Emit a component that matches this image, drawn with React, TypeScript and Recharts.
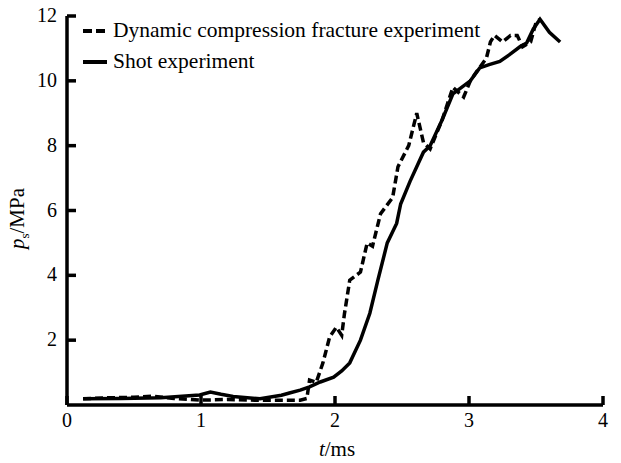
import { LineChart, Line, XAxis, YAxis, Label } from 'recharts';

// dynamic compression fracture experiment (dashed)
const dynT = [0.12, 0.3, 0.5, 0.64, 0.8, 1.0, 1.2, 1.4, 1.6, 1.74, 1.79, 1.81, 1.86, 1.91, 1.96, 2.01, 2.05, 2.07, 2.11, 2.19, 2.24, 2.28, 2.34, 2.43, 2.47, 2.55, 2.61, 2.66, 2.71, 2.8, 2.88, 2.96, 3.01, 3.06, 3.13, 3.16, 3.19, 3.25, 3.31, 3.36, 3.4, 3.46, 3.5, 3.53];
const dynP = [0.19, 0.22, 0.24, 0.27, 0.2, 0.15, 0.17, 0.15, 0.15, 0.15, 0.2, 0.77, 0.7, 1.3, 2.1, 2.4, 2.15, 2.8, 3.85, 4.1, 5.0, 4.9, 5.9, 6.4, 7.35, 8.0, 9.0, 8.1, 7.9, 8.8, 9.8, 9.5, 10.0, 10.3, 10.7, 11.2, 11.4, 11.2, 11.4, 11.4, 11.05, 11.2, 11.8, 11.9];

// shot experiment (solid)
const shotT = [0.12, 0.4, 0.7, 0.99, 1.07, 1.15, 1.24, 1.44, 1.6, 1.66, 1.74, 1.81, 1.89, 1.99, 2.05, 2.11, 2.19, 2.26, 2.32, 2.39, 2.46, 2.49, 2.56, 2.66, 2.71, 2.8, 2.88, 3.01, 3.08, 3.15, 3.23, 3.3, 3.38, 3.43, 3.48, 3.53, 3.6, 3.68];
const shotP = [0.19, 0.2, 0.22, 0.31, 0.4, 0.33, 0.26, 0.19, 0.3, 0.37, 0.46, 0.56, 0.71, 0.86, 1.05, 1.3, 2.0, 2.83, 3.85, 5.0, 5.6, 6.2, 6.9, 7.8, 8.0, 8.8, 9.6, 10.0, 10.4, 10.5, 10.6, 10.8, 11.05, 11.17, 11.6, 11.9, 11.5, 11.2];

const xTicks = [0, 1, 2, 3, 4];
const yTicks = [2, 4, 6, 8, 10, 12];

const seriesNames = ['Dynamic compression fracture experiment', 'Shot experiment'];

const dynData = dynT.map((t, i) => ({ t, p: dynP[i] }));
const shotData = shotT.map((t, i) => ({ t, p: shotP[i] }));

const FONT = '"Liberation Serif", "DejaVu Serif", serif';
const TICK_LEN = 9;
const frameLine = { stroke: '#000', strokeWidth: 3.5 };

// ticks point inward, labels outside
const XTick = (props: any) => {
  const { x, y, payload } = props;
  return (
    <g>
      <line x1={x} y1={y} x2={x} y2={y - TICK_LEN} stroke="#000" strokeWidth={3.5} />
      <text x={x} y={y + 22} textAnchor="middle" fontFamily={FONT} fontSize={20} fill="#000">
        {payload.value}
      </text>
    </g>
  );
};

const YTick = (props: any) => {
  const { x, y, payload } = props;
  return (
    <g>
      <line x1={x} y1={y} x2={x + TICK_LEN} y2={y} stroke="#000" strokeWidth={3.5} />
      <text x={x - 10} y={y + 6} textAnchor="end" fontFamily={FONT} fontSize={20} fill="#000">
        {payload.value}
      </text>
    </g>
  );
};

const YLabel = (props: any) => {
  const { viewBox } = props;
  const cx = 24;
  const cy = viewBox.y + viewBox.height / 2 + 8;
  return (
    <text x={cx} y={cy} transform={`rotate(-90 ${cx} ${cy})`} textAnchor="middle"
      fontFamily={FONT} fontSize={21} fill="#000">
      <tspan fontStyle="italic">p</tspan>
      <tspan fontSize={13} dy={5}>s</tspan>
      <tspan dy={-5}>/MPa</tspan>
    </text>
  );
};

const XLabel = (props: any) => {
  const { viewBox } = props;
  const cx = viewBox.x + viewBox.width / 2 + 2;
  return (
    <text x={cx} y={456} textAnchor="middle" fontFamily={FONT} fontSize={21} fill="#000">
      <tspan fontStyle="italic">t</tspan>
      <tspan>/ms</tspan>
    </text>
  );
};

export default function App() {
  return (
    <div style={{ position: 'absolute', left: 0, top: 0, width: 621, height: 463, background: '#fff', fontFamily: FONT }}>
      <LineChart width={621} height={463} margin={{ top: 16, right: 18, bottom: 0, left: 0 }}>
        <XAxis
          dataKey="t"
          type="number"
          domain={[0, 4]}
          ticks={xTicks}
          axisLine={frameLine}
          tickLine={false}
          tickSize={0}
          tickMargin={0}
          height={58}
          tick={XTick}
        >
          <Label content={XLabel} />
        </XAxis>
        {/* top edge of the frame */}
        <XAxis xAxisId="top" orientation="top" type="number" domain={[0, 4]} height={0}
          axisLine={frameLine} tick={false} tickLine={false} />
        <YAxis
          dataKey="p"
          type="number"
          domain={[0, 12]}
          ticks={yTicks}
          axisLine={frameLine}
          tickLine={false}
          tickSize={0}
          tickMargin={0}
          width={67}
          tick={YTick}
        >
          <Label content={YLabel} />
        </YAxis>
        {/* right edge of the frame */}
        <YAxis yAxisId="right" orientation="right" type="number" domain={[0, 12]} width={0}
          axisLine={frameLine} tick={false} tickLine={false} />
        <Line data={dynData} dataKey="p" name={seriesNames[0]} type="linear" stroke="#000"
          strokeWidth={3.5} strokeDasharray="8 4" dot={false} isAnimationActive={false} />
        <Line data={shotData} dataKey="p" name={seriesNames[1]} type="linear" stroke="#000"
          strokeWidth={3.5} dot={false} isAnimationActive={false} />
      </LineChart>

      {/* legend, top-left inside the frame */}
      <div style={{ position: 'absolute', left: 82, top: 15, fontSize: 21.5, color: '#000', lineHeight: '31px' }}>
        {seriesNames.map((name, i) => (
          <div key={name} style={{ display: 'flex', alignItems: 'center' }}>
            <svg width={26} height={8} style={{ marginRight: 5 }}>
              <line x1={1} y1={4} x2={25} y2={4} stroke="#000" strokeWidth={4}
                strokeDasharray={i === 0 ? '9 4' : undefined} />
            </svg>
            <span>{name}</span>
          </div>
        ))}
      </div>
    </div>
  );
}
